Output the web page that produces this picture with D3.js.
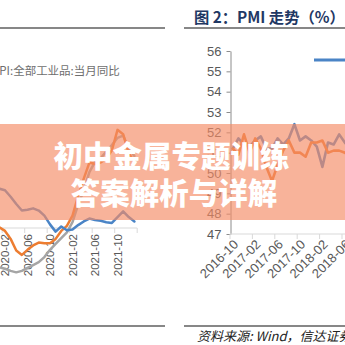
<!DOCTYPE html>
<html>
<head>
<meta charset="utf-8">
<script src="https://cdn.jsdelivr.net/npm/d3@7"></script>
<style>
  html, body { margin: 0; padding: 0; background: #fff; overflow: hidden; }
  svg { display: block; }
</style>
</head>
<body>
<svg id="chart" width="345" height="345"></svg>
<script>
// ---- Left panel: CPI / PPI monthly year-on-year (%) ----
const leftMonths = ['2020-01','2020-02','2020-03','2020-04','2020-05','2020-06','2020-07','2020-08','2020-09','2020-10','2020-11','2020-12',
                    '2021-01','2021-02','2021-03','2021-04','2021-05','2021-06','2021-07','2021-08','2021-09','2021-10','2021-11','2021-12','2022-01'];
const cpiYoy   = [5.4, 5.2, 4.3, 3.3, 2.4, 2.5, 2.7, 2.4, 1.7, 0.5, -0.5, 0.2, -0.3, -0.2, 0.4, 0.9, 1.3, 1.1, 1.0, 0.8, 0.7, 1.5, 2.3, 1.5, 0.9];
const ppiYoy   = [0.1, -0.4, -1.5, -3.1, -3.7, -3.0, -2.4, -2.0, -2.1, -2.1, -1.5, -0.4, 0.3, 1.7, 4.4, 6.8, 9.0, 8.8, 9.0, 9.5, 10.7, 13.5, 12.9, 10.3, 9.1];
const ppirmYoy = [-5.4, -5.6, -5.9, -6.1, -5.9, -5.5, -5.1, -4.7, -4.0, -3.0, -2.2, -1.4, -0.6, 0.8, 3.2, 5.2, 7.7, 9.1, 9.6, 10.5, 11.4, 12.4, 12.7, 11.0, 9.9];
const leftTickLabels = ['2020-02','2020-06','2020-10','2021-02','2021-06','2021-10'];
const leftLegend = 'PPI:全部工业品:当月同比';

// ---- Right panel: PMI (%) ----
const pmiMonths = ['2016-10','2016-11','2016-12','2017-01','2017-02','2017-03','2017-04','2017-05','2017-06','2017-07','2017-08','2017-09',
                   '2017-10','2017-11','2017-12','2018-01','2018-02','2018-03','2018-04','2018-05','2018-06','2018-07'];
const pmiOfficial = [51.2, 51.7, 51.4, 51.3, 51.6, 51.8, 51.2, 51.2, 51.7, 51.4, 51.7, 52.4, 51.6, 51.8, 51.6, 51.3, 50.3, 51.5, 51.4, 51.9, 51.5, 51.2];
const pmiCaixin   = [51.2, 50.9, 51.9, 51.0, 51.7, 51.2, 50.3, 49.6, 50.4, 51.1, 51.6, 51.0, 51.0, 50.8, 51.5, 51.5, 51.6, 51.0, 51.1, 51.1, 51.0, 50.8];
const pmiYTicks = [47, 48, 49, 50, 51, 52, 53, 54, 55, 56];
const pmiTickLabels = ['2016-10','2017-02','2017-06','2017-10','2018-02','2018-06'];

const titleText = '图 2：PMI 走势（%）';
const sourceText = '资料来源: Wind，信达证券研发中心';
const bannerLines = ['初中金属专题训练', '答案解析与详解'];

const C_BLUE = '#4a84c6', C_ORANGE = '#ed7d31', C_GRAY = '#a5a5a5';
const AXIS_FONT = '"Liberation Sans", Arial, sans-serif';
const CJK_FONT = '"Noto Sans CJK SC", "Liberation Sans", sans-serif';

const svg = d3.select('#chart');
svg.append('rect').attr('width', 345).attr('height', 345).attr('fill', '#fff');

// ---------- Left panel ----------
const xL = d3.scaleBand().domain(leftMonths).range([-3.44, 137.2]).padding(0);
const yL = d3.scaleLinear().domain([0, 10]).range([228, 155.3]);
const cxL = m => xL(m) + xL.bandwidth() / 2;

const gL = svg.append('g');
gL.append('line').attr('x1', 0).attr('x2', 165).attr('y1', 28).attr('y2', 28)
  .attr('stroke', '#111').attr('stroke-width', 1.2);
gL.append('line').attr('x1', 0).attr('x2', 165).attr('y1', 326).attr('y2', 326)
  .attr('stroke', '#111').attr('stroke-width', 1.2);

gL.append('text').attr('x', -8).attr('y', 70).attr('dominant-baseline', 'central')
  .attr('font-family', CJK_FONT).attr('font-size', 11.5).attr('fill', '#6e6e6e')
  .text(leftLegend);

// category axis along zero
gL.append('line').attr('x1', 0).attr('x2', xL.range()[1]).attr('y1', yL(0)).attr('y2', yL(0))
  .attr('stroke', '#d9d9d9').attr('stroke-width', 1);
const leftTickPos = leftTickLabels.map(m => xL(m)).concat([xL.range()[1]]);
gL.selectAll('.lt').data(leftTickPos).join('line')
  .attr('x1', d => d).attr('x2', d => d).attr('y1', yL(0)).attr('y2', yL(0) + 5)
  .attr('stroke', '#d9d9d9');
gL.selectAll('.ll').data(leftTickLabels).join('text')
  .attr('transform', d => `translate(${cxL(d)},${yL(0) + 6}) rotate(-90)`)
  .attr('text-anchor', 'end').attr('dy', '0.35em')
  .attr('font-family', AXIS_FONT).attr('font-size', 11.5).attr('fill', '#595959')
  .text(d => d);

const lineL = d3.line().x((d, i) => cxL(leftMonths[i])).y(d => yL(d)).curve(d3.curveLinear);
[[ppirmYoy, C_GRAY], [ppiYoy, C_ORANGE], [cpiYoy, C_BLUE]].forEach(([vals, col]) => {
  gL.append('path').attr('d', lineL(vals)).attr('fill', 'none')
    .attr('stroke', col).attr('stroke-width', 2.5)
    .attr('stroke-linejoin', 'round').attr('stroke-linecap', 'round');
});

// ---------- Right panel ----------
const xR = d3.scaleBand().domain(pmiMonths).range([230, 230 + pmiMonths.length * 5.6]).padding(0);
const yR = d3.scaleLinear().domain([47, 56]).range([234, 51]);
const cxR = m => xR(m) + xR.bandwidth() / 2;

const gR = svg.append('g');
gR.append('text').attr('x', 194).attr('y', 23)
  .attr('font-family', CJK_FONT).attr('font-weight', 'bold').attr('font-size', 15.3)
  .attr('fill', '#1f3864').text(titleText);
gR.append('line').attr('x1', 184).attr('x2', 345).attr('y1', 28).attr('y2', 28)
  .attr('stroke', '#111').attr('stroke-width', 1.2);
gR.append('line').attr('x1', 184).attr('x2', 345).attr('y1', 326).attr('y2', 326)
  .attr('stroke', '#111').attr('stroke-width', 1.2);
gR.append('text').attr('x', 197).attr('y', 335).attr('dominant-baseline', 'central')
  .attr('font-family', CJK_FONT).attr('font-style', 'italic').attr('font-size', 13)
  .attr('fill', '#222').text(sourceText);

// y axis
const yAxis = d3.axisLeft(yR).tickValues(pmiYTicks).tickSize(4).tickSizeOuter(0).tickPadding(5);
const gy = gR.append('g').attr('transform', 'translate(230.5,0)').call(yAxis);
gy.select('.domain').attr('stroke', '#8c8c8c');
gy.selectAll('.tick line').attr('stroke', '#8c8c8c');
gy.selectAll('.tick text').attr('font-family', AXIS_FONT).attr('font-size', 13).attr('fill', '#595959');

// x axis
gR.append('line').attr('x1', 230).attr('x2', 345).attr('y1', yR(47)).attr('y2', yR(47))
  .attr('stroke', '#d9d9d9');
gR.selectAll('.rt').data(pmiTickLabels).join('line')
  .attr('x1', d => xR(d)).attr('x2', d => xR(d)).attr('y1', yR(47)).attr('y2', yR(47) + 5)
  .attr('stroke', '#d9d9d9');
gR.selectAll('.rl').data(pmiTickLabels).join('text')
  .attr('transform', d => `translate(${cxR(d) + 3},${yR(47) + 8}) rotate(-45)`)
  .attr('text-anchor', 'end').attr('dy', '0.35em')
  .attr('font-family', AXIS_FONT).attr('font-size', 13).attr('fill', '#595959')
  .text(d => d);

// legend swatch
gR.append('line').attr('x1', 314).attr('x2', 352).attr('y1', 60).attr('y2', 60)
  .attr('stroke', C_BLUE).attr('stroke-width', 3);

const lineR = d3.line().x((d, i) => cxR(pmiMonths[i])).y(d => yR(d));
[[pmiOfficial, C_BLUE], [pmiCaixin, C_ORANGE]].forEach(([vals, col]) => {
  gR.append('path').attr('d', lineR(vals)).attr('fill', 'none')
    .attr('stroke', col).attr('stroke-width', 2.6)
    .attr('stroke-linejoin', 'round').attr('stroke-linecap', 'round');
});

// ---------- Banner ----------
svg.append('rect').attr('x', 0).attr('y', 124).attr('width', 345).attr('height', 96)
  .attr('fill', 'rgb(244,140,101)').attr('fill-opacity', 0.66);
const bannerPos = [[171.5, 154], [174, 191]];
svg.selectAll('.bt').data(bannerLines).join('text')
  .attr('x', (d, i) => bannerPos[i][0]).attr('y', (d, i) => bannerPos[i][1])
  .attr('text-anchor', 'middle').attr('dominant-baseline', 'central')
  .attr('font-family', CJK_FONT).attr('font-weight', 900).attr('font-size', 29.5)
  .attr('fill', '#fff').text(d => d);
</script>
</body>
</html>
